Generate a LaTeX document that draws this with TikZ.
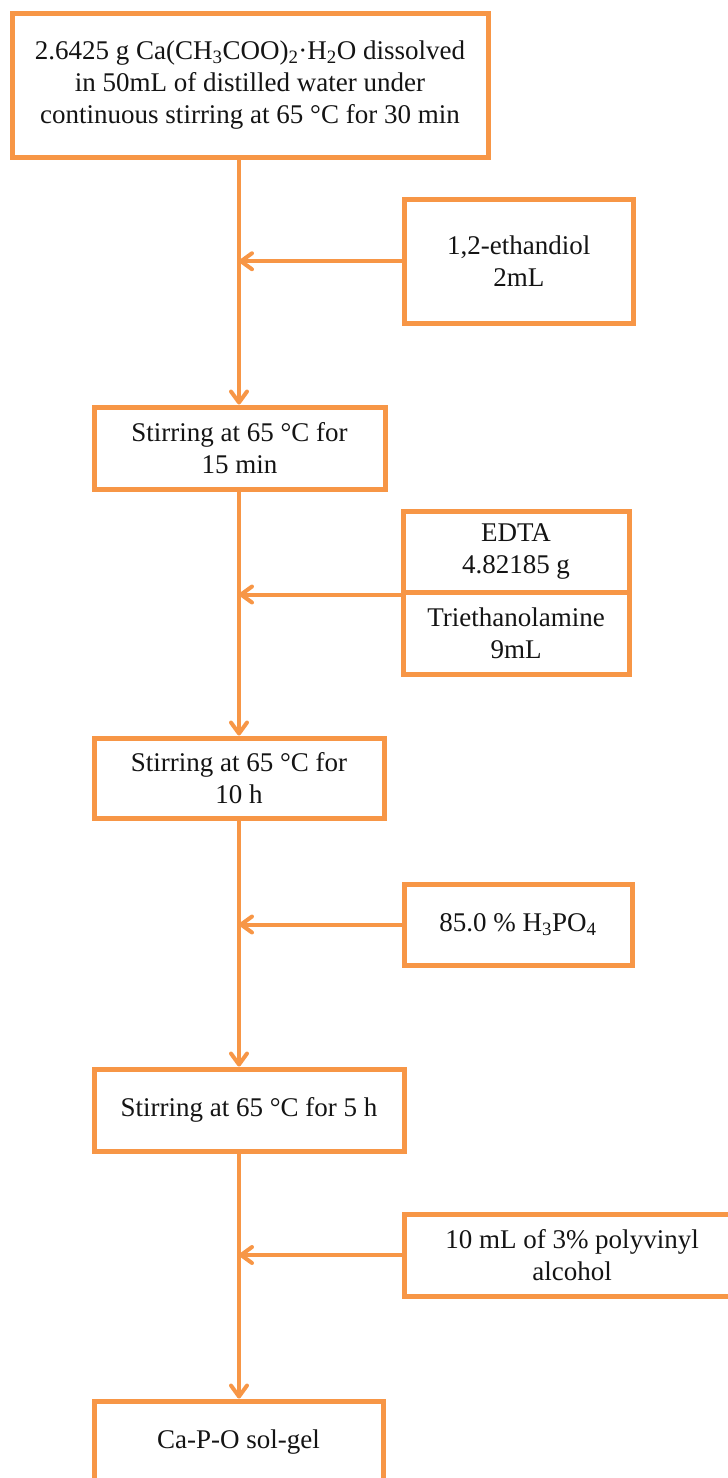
\documentclass[tikz,border=0pt]{standalone}
\usepackage{fontspec}
\setmainfont{Liberation Serif}
\usetikzlibrary{arrows.meta}
\definecolor{orng}{HTML}{F79646}
\definecolor{ink}{HTML}{141414}
\begin{document}
\begin{tikzpicture}[x=1pt,y=-1pt,
  box/.style={draw=orng, line width=5pt, fill=white, text=ink, align=center, inner sep=0pt,
    font=\fontsize{27}{32}\selectfont},
  flow/.style={draw=orng, line width=4pt, -{Straight Barb[length=11pt,width=16pt,round]}}]
\clip (0,0) rectangle (728,1478);
\coordinate (spine) at (239,0);
\node[box, minimum width=476pt, minimum height=144pt] (top) at (250,85)
  {2.6425 g Ca(CH\textsubscript{3}COO)\textsubscript{2}·H\textsubscript{2}O dissolved\\in 50mL of distilled water under\\continuous stirring at 65 °C for 30 min};
\node[box, minimum width=228.5pt, minimum height=123.5pt] (eth) at (518.75,261.25) {1,2-ethandiol\\2mL};
\node[box, minimum width=291pt, minimum height=82pt] (s1) at (239.5,448) {Stirring at 65 °C for\\15 min};
\node[box, minimum width=226pt, minimum height=81pt] (edta) at (516,551.5) {EDTA\\4.82185 g};
\node[box, minimum width=226pt, minimum height=82pt] (tea) at (516,633) {Triethanolamine\\9mL};
\node[box, minimum width=290pt, minimum height=80pt] (s2) at (239,778) {Stirring at 65 °C for\\10 h};
\node[box, minimum width=228pt, minimum height=81pt] (acid) at (518,924.5) {85.0 \% H\textsubscript{3}PO\textsubscript{4}};
\node[box, minimum width=310pt, minimum height=82pt] (s3) at (249,1110) {Stirring at 65 °C for 5 h};
\node[box, minimum width=336pt, minimum height=82pt] (pva) at (572,1255) {10 mL of 3\% polyvinyl\\alcohol};
\node[box, minimum width=289pt, minimum height=82pt] (gel) at (238.5,1442) {Ca-P-O sol-gel};
\draw[flow] (top.south -| spine) -- (s1.north -| spine);
\draw[flow] (s1.south -| spine) -- (s2.north -| spine);
\draw[flow] (s2.south -| spine) -- (s3.north -| spine);
\draw[flow] (s3.south -| spine) -- (gel.north -| spine);
\draw[flow] (eth.west) -- (eth.west -| spine);
\draw[flow] (edta.south west) -- (edta.south west -| spine);
\draw[flow] (acid.west) -- (acid.west -| spine);
\draw[flow] (pva.west) -- (pva.west -| spine);
\end{tikzpicture}
\end{document}
